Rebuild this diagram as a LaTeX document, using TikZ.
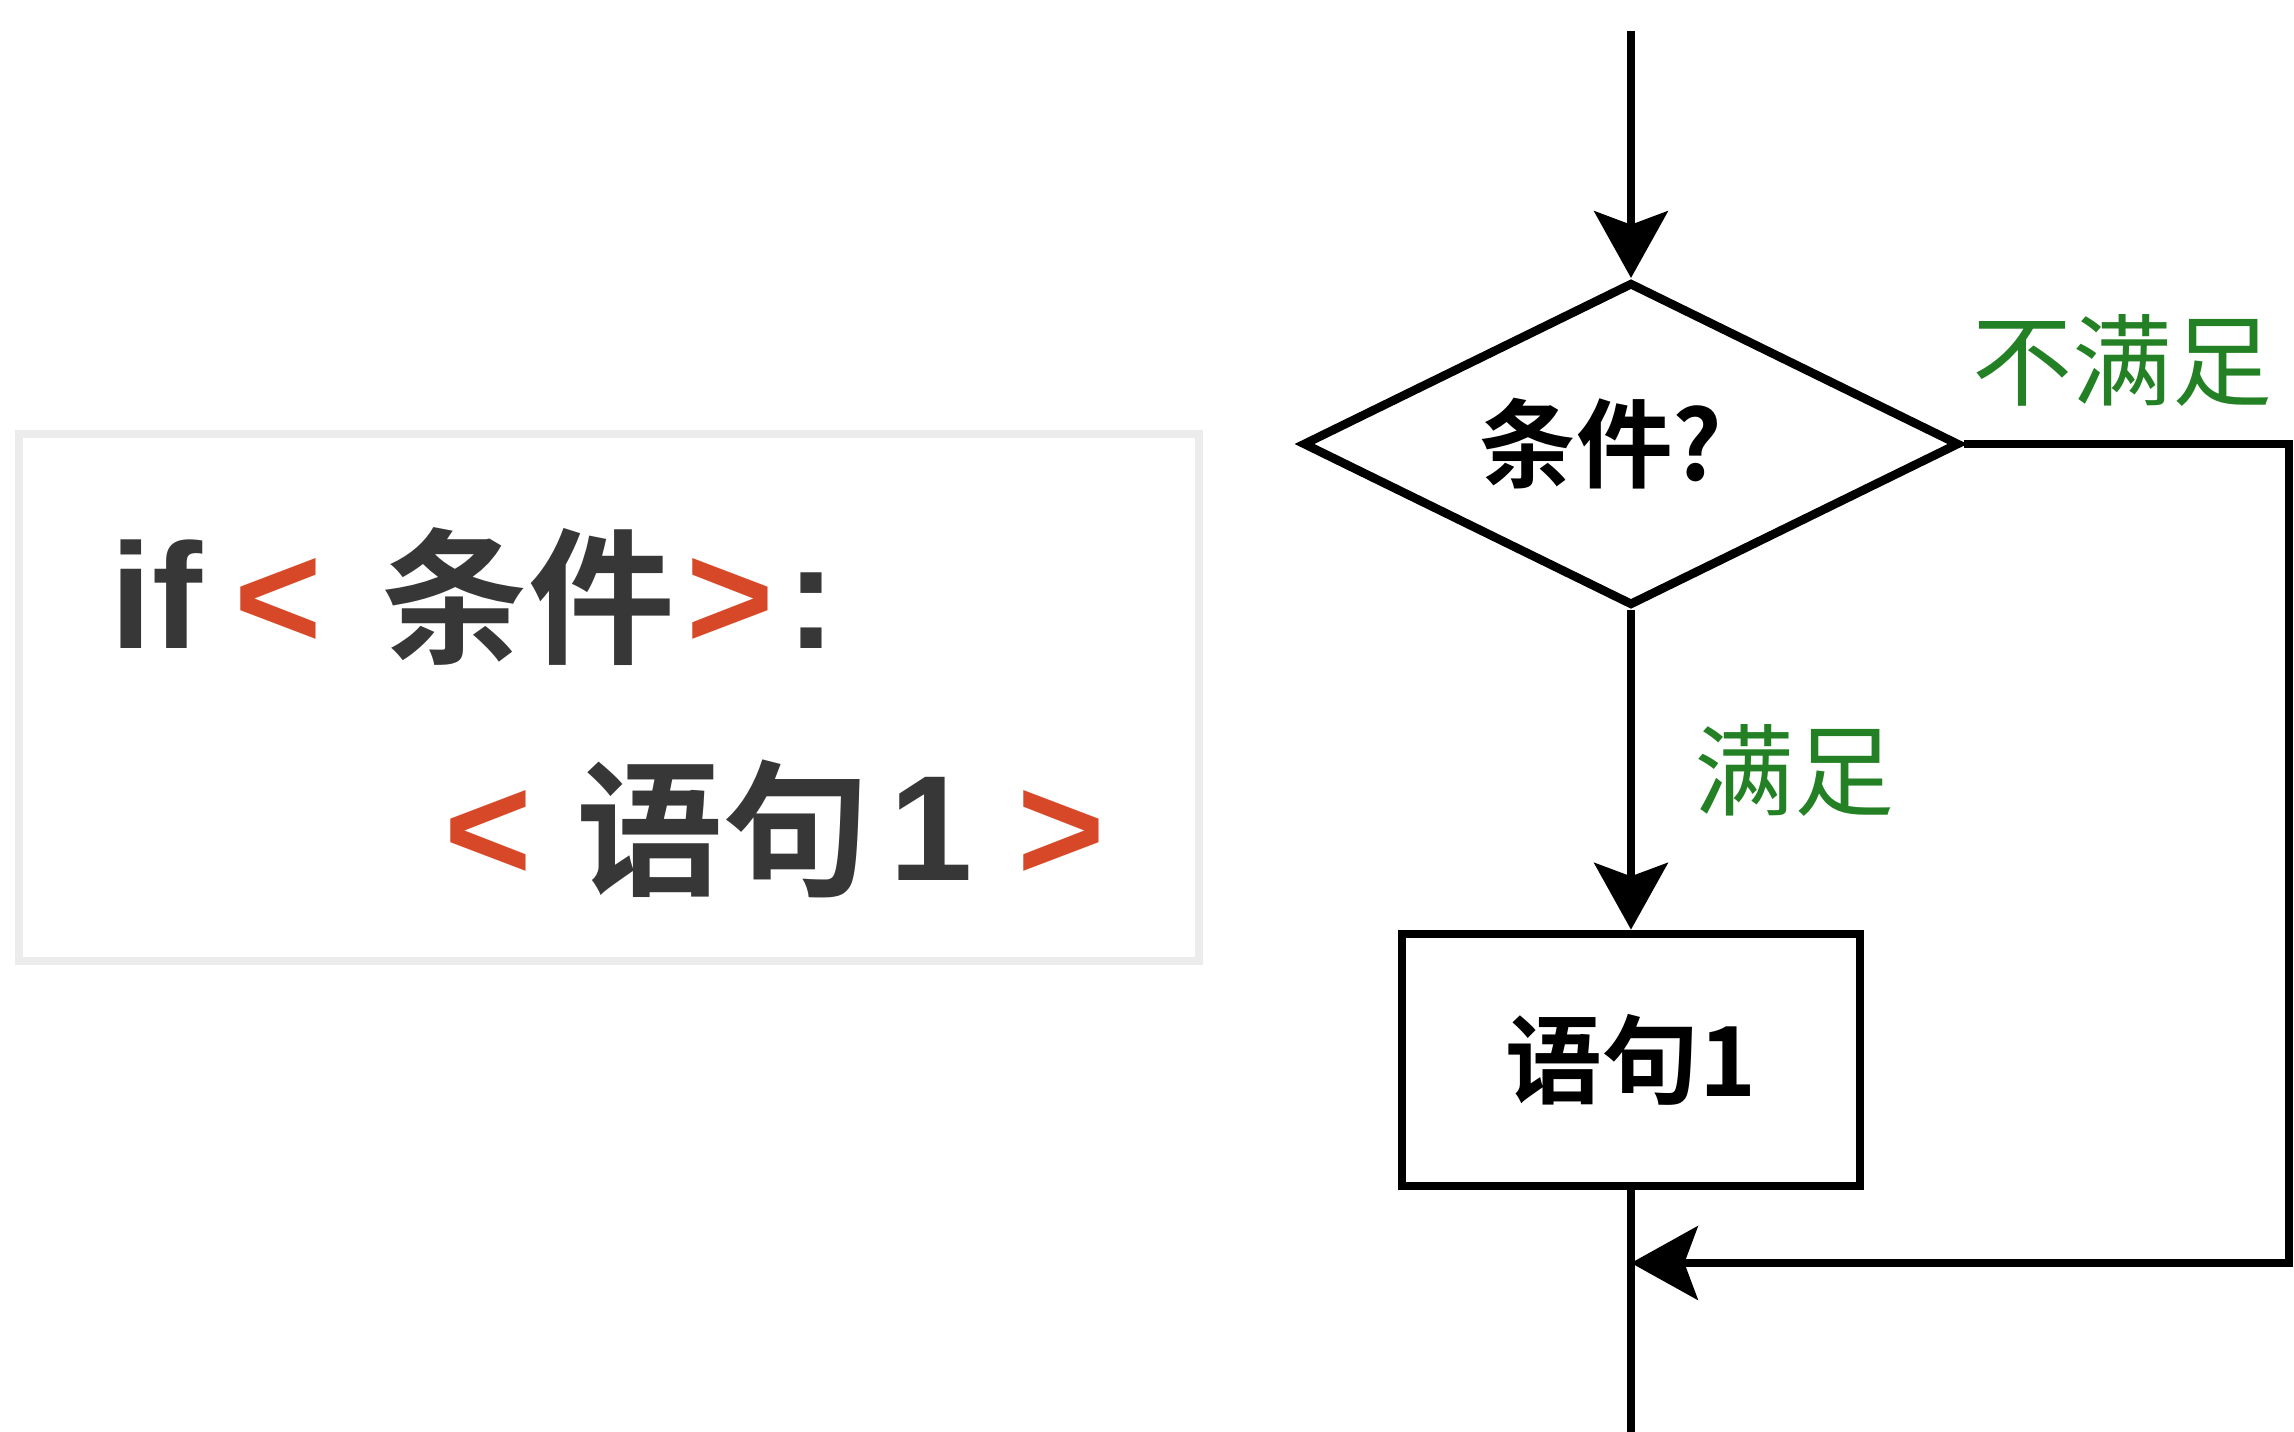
\documentclass[tikz,border=0pt]{standalone}
\usepackage{fontspec}
\setmainfont{Liberation Sans}
\newfontfamily\cjk{Noto Sans CJK SC}[BoldFont={Noto Sans CJK SC Bold}]
\usetikzlibrary{shapes.geometric,arrows.meta}
\definecolor{codered}{RGB}{214,72,40}
\definecolor{codegray}{RGB}{55,55,55}
\definecolor{labgreen}{RGB}{36,128,36}
\definecolor{boxgray}{RGB}{236,236,236}
\newcommand\fsz[1]{\fontsize{#1}{#1}\selectfont}
\begin{document}
\begin{tikzpicture}[x=0.3pt,y=-0.3pt,
  flow/.style={line width=2.6pt,draw=black},
  arr/.style={flow,-{Stealth[length=20pt,width=22pt,inset=4pt]}},
  codetxt/.style={inner sep=0pt,anchor=base,text=codegray,font=\fsz{45pt}\bfseries},
  codebr/.style={codetxt,text=codered},
  cjkcode/.style={codetxt,font=\fsz{44pt}\cjk\bfseries},
  decision/.style={diamond,draw,line width=2.6pt,inner sep=0pt,aspect=2,
    minimum width=197pt,minimum height=97pt,font=\fsz{29pt}\cjk\bfseries},
  process/.style={rectangle,draw,line width=2.6pt,inner sep=0pt,
    minimum width=137.4pt,minimum height=75.6pt,font=\fsz{29pt}\cjk\bfseries},
  lab/.style={inner sep=0pt,text=labgreen,font=\fsz{30pt}\cjk}]
\useasboundingbox (0,0) rectangle (2294,1432);
% code box
\draw[boxgray,line width=2.6pt] (19,434) rectangle (1199,961);
\node[codetxt,anchor=base west] (kwif) at (110,648) {if};
\node[codebr] (lt1) at (278,648) {<};
\node[cjkcode] (cond) at (528,652) {条件};
\node[codebr] (gt1) at (730,648) {>};
\node[codetxt] (colon) at (811,648) {:};
\node[codebr] (lt2) at (488,880) {<};
\node[cjkcode] (stmt) at (723,884) {语句};
\node[codetxt] (one) at (931,880) {1};
\node[codebr] (gt2) at (1061,880) {>};
% flowchart
\coordinate (start) at (1631,31);
\node[decision] (dec) at (1631,444) {条件?\hspace*{18pt}};
\node[process] (box) at (1631,1060) {语句1};
\coordinate (rt) at (2289,444);
\coordinate (rb) at (2289,1263);
\coordinate (merge) at (1631,1263);
\coordinate (endp) at (1631,1432);
\draw[arr] (start) -- (dec.north);
\draw[arr] (dec.south) -- (box.north);
\draw[flow] (box.south) -- (endp);
\draw[arr] (dec.east) -- (rt) -- (rb) -- (merge);
\node[lab] (no) at (2122,360) {不满足};
\node[lab] (yes) at (1794,770) {满足};
\end{tikzpicture}
\end{document}
